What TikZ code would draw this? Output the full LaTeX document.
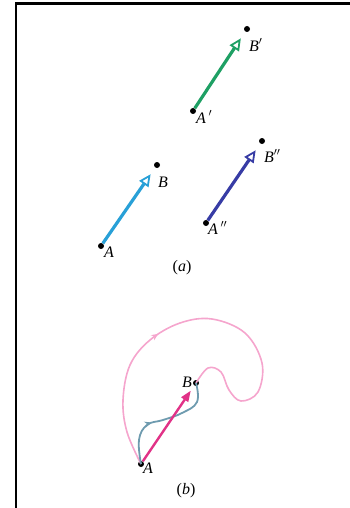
\documentclass[tikz,border=0pt]{standalone}
\usepackage{fontspec}
\setmainfont{Liberation Serif}
\usetikzlibrary{arrows.meta,decorations.markings}
\definecolor{cgreen}{RGB}{30,160,100}
\definecolor{clblue}{RGB}{40,160,215}
\definecolor{cdblue}{RGB}{55,60,165}
\definecolor{cmag}{RGB}{225,50,135}
\definecolor{cpink}{RGB}{245,165,205}
\definecolor{cgrey}{RGB}{110,155,175}
\tikzset{
  pt/.style={circle,fill=black,inner sep=0pt,minimum size=6pt},
  lbl/.style={font=\fontsize{16}{18}\selectfont\itshape,inner sep=1pt},
  vec/.style={line width=3.2pt,shorten >=8pt,-{Triangle[open,length=12pt,width=11pt,line width=1.8pt]}},
  midarrow/.style={postaction={decorate},decoration={markings,mark=at position #1 with {\arrow{Stealth[length=7pt,width=6pt]}}}}
}
\begin{document}
\begin{tikzpicture}[x=1pt,y=-1pt]
\useasboundingbox (0,0) rectangle (350,508);
\draw[line width=2.5pt] (350,3.5) -- (16,3.5) -- (16,508);
% (a)
\node[pt] (Bp) at (247,29) {};
\node[pt] (Ap) at (193,111) {};
\node[pt] (B) at (157,165) {};
\node[pt] (A) at (101,246) {};
\node[pt] (Bpp) at (262,141) {};
\node[pt] (App) at (206,223) {};
\draw[vec,cgreen] (Ap) -- (Bp);
\draw[vec,clblue] (A) -- (B);
\draw[vec,cdblue] (App) -- (Bpp);
\node[lbl,anchor=west] (lBp) at (248,45) {B$'$};
\node[lbl,anchor=west] (lAp) at (195,117) {A\,$'$};
\node[lbl,anchor=west] (lB) at (157,182) {B};
\node[lbl,anchor=west] (lA) at (103,252) {A};
\node[lbl,anchor=west] (lBpp) at (263,156) {B$''$};
\node[lbl,anchor=west] (lApp) at (207,228) {A\,$''$};
\node[lbl,font=\fontsize{16}{18}\selectfont] (capa) at (182,268) {(\textit{a})};
% (b)
\node[pt] (bA) at (141,464) {};
\node[pt] (bB) at (196,383) {};
\draw[cpink,line width=1.6pt,midarrow=0.37] plot[smooth,tension=0.6] coordinates {(bA.center) (127,432) (123,400) (130,365) (150,340) (180,323) (212,319) (245,333) (262,363) (258,392) (241,401) (229,390) (221,372) (208,368) (bB.center)};
\draw[cgrey,line width=1.8pt,midarrow=0.4] plot[smooth,tension=0.7] coordinates {(bA.center) (139,440) (147,425) (163,420) (182,413) (197,402) (bB.center)};
\draw[cmag,line width=2.4pt,shorten >=6pt,-{Triangle[length=11pt,width=8pt]}] (bA) -- (bB);
\node[lbl,anchor=east] (lbB) at (193,382) {B};
\node[lbl,anchor=west] (lbA) at (142,468) {A};
\node[lbl,font=\fontsize{16}{18}\selectfont] (capb) at (186,491) {(\textit{b})};
\end{tikzpicture}
\end{document}
